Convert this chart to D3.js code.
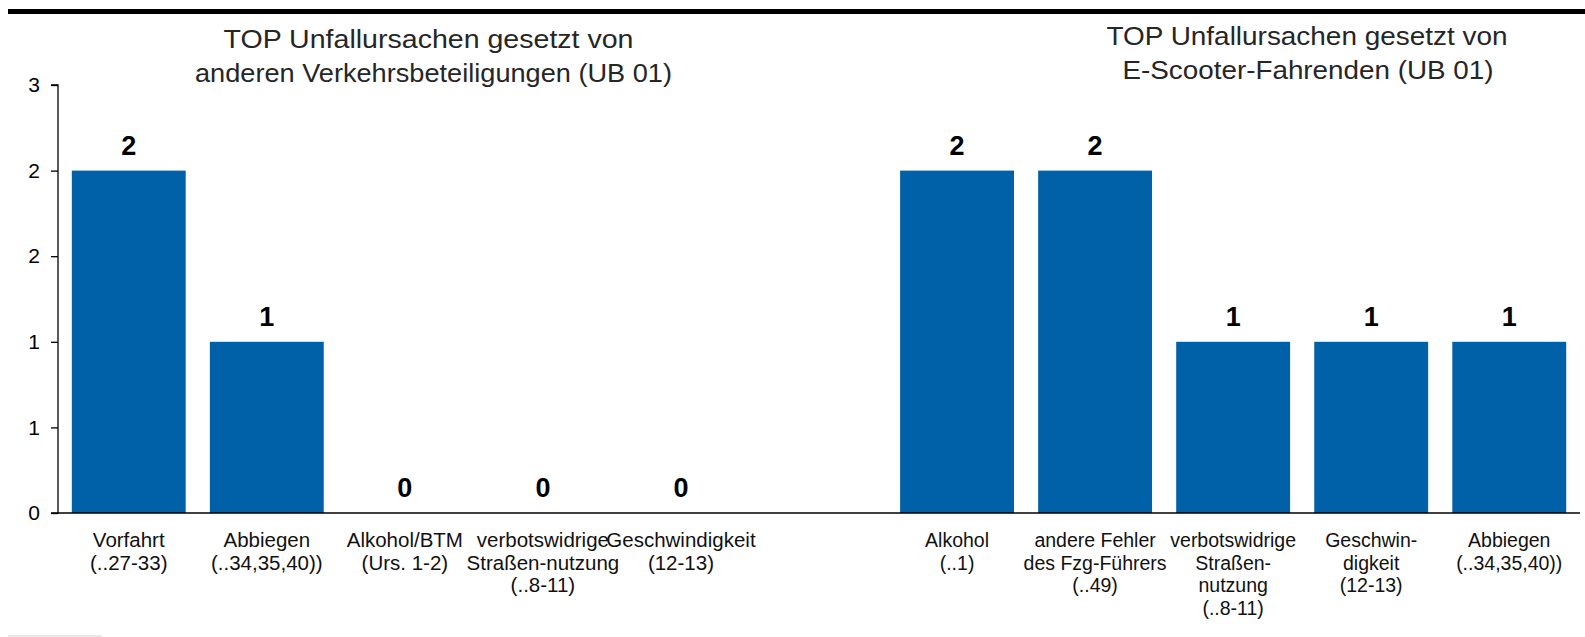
<!DOCTYPE html>
<html>
<head>
<meta charset="utf-8">
<script src="https://cdn.jsdelivr.net/npm/d3@7"></script>
<style>
  html, body { margin: 0; padding: 0; background: #fff; }
  svg { display: block; font-family: "Liberation Sans", Arial, sans-serif; }
</style>
</head>
<body>
<svg id="chart" width="1585" height="637"></svg>
<script>
// ---- data ----
const leftTitle = ["TOP Unfallursachen gesetzt von", "anderen Verkehrsbeteiligungen (UB 01)"];
const rightTitle = ["TOP Unfallursachen gesetzt von", "E-Scooter-Fahrenden (UB 01)"];
const leftCategories = [
  ["Vorfahrt", "(..27-33)"],
  ["Abbiegen", "(..34,35,40))"],
  ["Alkohol/BTM", "(Urs. 1-2)"],
  ["verbotswidrige", "Straßen-nutzung", "(..8-11)"],
  ["Geschwindigkeit", "(12-13)"]
];
const leftValues = [2, 1, 0, 0, 0];
const rightCategories = [
  ["Alkohol", "(..1)"],
  ["andere Fehler", "des Fzg-Führers", "(..49)"],
  ["verbotswidrige", "Straßen-", "nutzung", "(..8-11)"],
  ["Geschwin-", "digkeit", "(12-13)"],
  ["Abbiegen", "(..34,35,40))"]
];
const rightValues = [2, 2, 1, 1, 1];
const yTickValues = [0, 0.5, 1, 1.5, 2, 2.5];
const yTickLabels = ["0", "1", "1", "2", "2", "3"];

// ---- build rows ----
const rows = [];
leftCategories.forEach((c, i) => rows.push({ key: "L" + i, side: "L", lines: c, value: leftValues[i] }));
rows.push({ key: "gap", side: null, lines: [], value: null });
rightCategories.forEach((c, i) => rows.push({ key: "R" + i, side: "R", lines: c, value: rightValues[i] }));

const svg = d3.select("#chart");
const barColor = "#0061a8";

const x = d3.scaleBand()
  .domain(rows.map(d => d.key))
  .range([58, 1580])
  .paddingInner(0.175)
  .paddingOuter(0.1);

const y = d3.scaleLinear().domain([0, 2.5]).range([513, 85]);

// top rule
svg.append("line")
  .attr("x1", 8).attr("x2", 1585).attr("y1", 11.5).attr("y2", 11.5)
  .attr("stroke", "#000").attr("stroke-width", 5);

// bottom-left faint rule
svg.append("line")
  .attr("x1", 8).attr("x2", 102).attr("y1", 636).attr("y2", 636)
  .attr("stroke", "#e2e2e2").attr("stroke-width", 1.5);

// titles
function title(lines, cx, baselines, lengths) {
  lines.forEach((t, i) => {
    svg.append("text")
      .attr("x", cx[i]).attr("y", baselines[i])
      .attr("text-anchor", "middle")
      .attr("font-size", 25)
      .attr("fill", "#262626")
      .attr("textLength", lengths[i])
      .attr("lengthAdjust", "spacingAndGlyphs")
      .text(t);
  });
}
title(leftTitle, [428.5, 433.5], [48, 82], [410, 477]);
title(rightTitle, [1307, 1308], [45, 78.5], [401, 371]);

// bars
svg.append("g").selectAll("rect")
  .data(rows.filter(d => d.value !== null))
  .join("rect")
  .attr("x", d => x(d.key))
  .attr("width", x.bandwidth())
  .attr("y", d => y(d.value))
  .attr("height", d => y(0) - y(d.value))
  .attr("fill", barColor);

// value labels
svg.append("g").selectAll("text")
  .data(rows.filter(d => d.value !== null))
  .join("text")
  .attr("x", d => x(d.key) + x.bandwidth() / 2)
  .attr("y", d => y(d.value) - 16)
  .attr("text-anchor", "middle")
  .attr("font-size", 27)
  .attr("font-weight", "bold")
  .attr("fill", "#000")
  .text(d => d3.format("d")(d.value));

// y axis
const yAxis = d3.axisLeft(y)
  .tickValues(yTickValues)
  .tickFormat((d, i) => yTickLabels[i])
  .tickSize(7)
  .tickPadding(11);
const gy = svg.append("g").attr("transform", "translate(58,0)").call(yAxis);
gy.attr("font-size", 21).attr("font-family", "Liberation Sans, Arial, sans-serif");
gy.select(".domain").attr("stroke", "#000").attr("stroke-width", 1.3).attr("d", "M-7,85H0V513H-7");
gy.selectAll(".tick line").attr("stroke", "#000").attr("stroke-width", 1.3);
gy.selectAll(".tick text").attr("fill", "#000");

// x baseline
svg.append("line")
  .attr("x1", 58).attr("x2", 1580).attr("y1", y(0)).attr("y2", y(0))
  .attr("stroke", "#000").attr("stroke-width", 1.5);

// category labels
const cat = svg.append("g").selectAll("text")
  .data(rows.filter(d => d.lines.length))
  .join("text")
  .attr("text-anchor", "middle")
  .attr("font-size", d => d.side === "L" ? 20.5 : 19.5)
  .attr("fill", "#111");
cat.each(function (d) {
  const t = d3.select(this);
  d.lines.forEach((ln, i) => {
    t.append("tspan")
      .attr("x", x(d.key) + x.bandwidth() / 2)
      .attr("y", 547 + i * 22.7)
      .text(ln);
  });
});
</script>
</body>
</html>
